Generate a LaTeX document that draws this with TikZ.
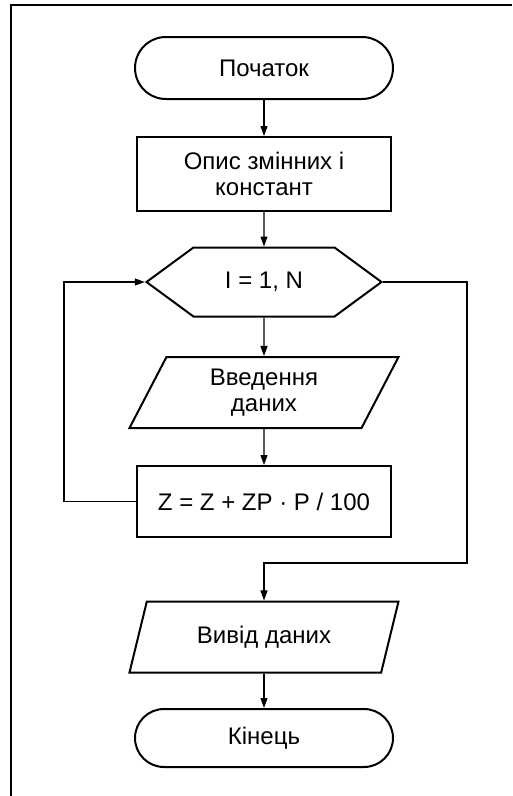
\documentclass[tikz,border=0pt]{standalone}
\usepackage{fontspec}
\setmainfont{Liberation Sans}
\usetikzlibrary{arrows.meta, shapes.geometric, shapes.misc, shapes.symbols}

\begin{document}
\begin{tikzpicture}[x=1pt, y=-1pt, >={Triangle[length=10pt, width=7pt]},
    every node/.style={font=\fontsize{24}{26}\selectfont, align=center, inner sep=0pt},
    term/.style={draw, line width=2pt, rounded rectangle, minimum width=258pt},
    proc/.style={draw, line width=2pt, rectangle, minimum width=254pt},
    cycle/.style={draw, line width=2pt, signal, signal to=west and east,
        signal pointer angle=72.6, minimum width=235pt, minimum height=69pt},
    io/.style={draw, line width=2pt, trapezium, trapezium left angle=52,
        trapezium right angle=128, trapezium stretches body=true,
        minimum width=269pt, minimum height=71pt},
    link/.style={line width=1.2pt}]
    \useasboundingbox (0,0) rectangle (512,796);
    \draw[line width=2pt] (11,796) -- (11,5) -- (512,5);

    \node[term, minimum height=62pt] (start) at (264,68) {Початок};
    \node[proc, minimum height=74pt] (vars) at (264,174) {Опис змінних і\\констант};
    \node[cycle] (loop) at (264,282) {I = 1, N};
    \node[io] (input) at (264,392.5) {Введення\\даних};
    \node[proc, minimum height=71pt] (calc) at (264,501.5) {Z = Z + ZP · P / 100};
    \node[io] (output) at (264,637) {Вивід даних};
    \node[term, minimum height=58pt] (stop) at (264,738) {Кінець};
    \coordinate (turn) at (467,563);

    \draw[link, ->] (start) -- (vars);
    \draw[link, ->] (vars) -- (loop);
    \draw[link, ->] (loop) -- (input);
    \draw[link, ->] (input) -- (calc);
    \draw[link, ->] (calc.west) -- ++(-72,0) |- (loop.west);
    \draw[link, ->] (loop.east) -| (turn) -| (output.north);
    \draw[link, ->] (output) -- (stop);
\end{tikzpicture}
\end{document}
